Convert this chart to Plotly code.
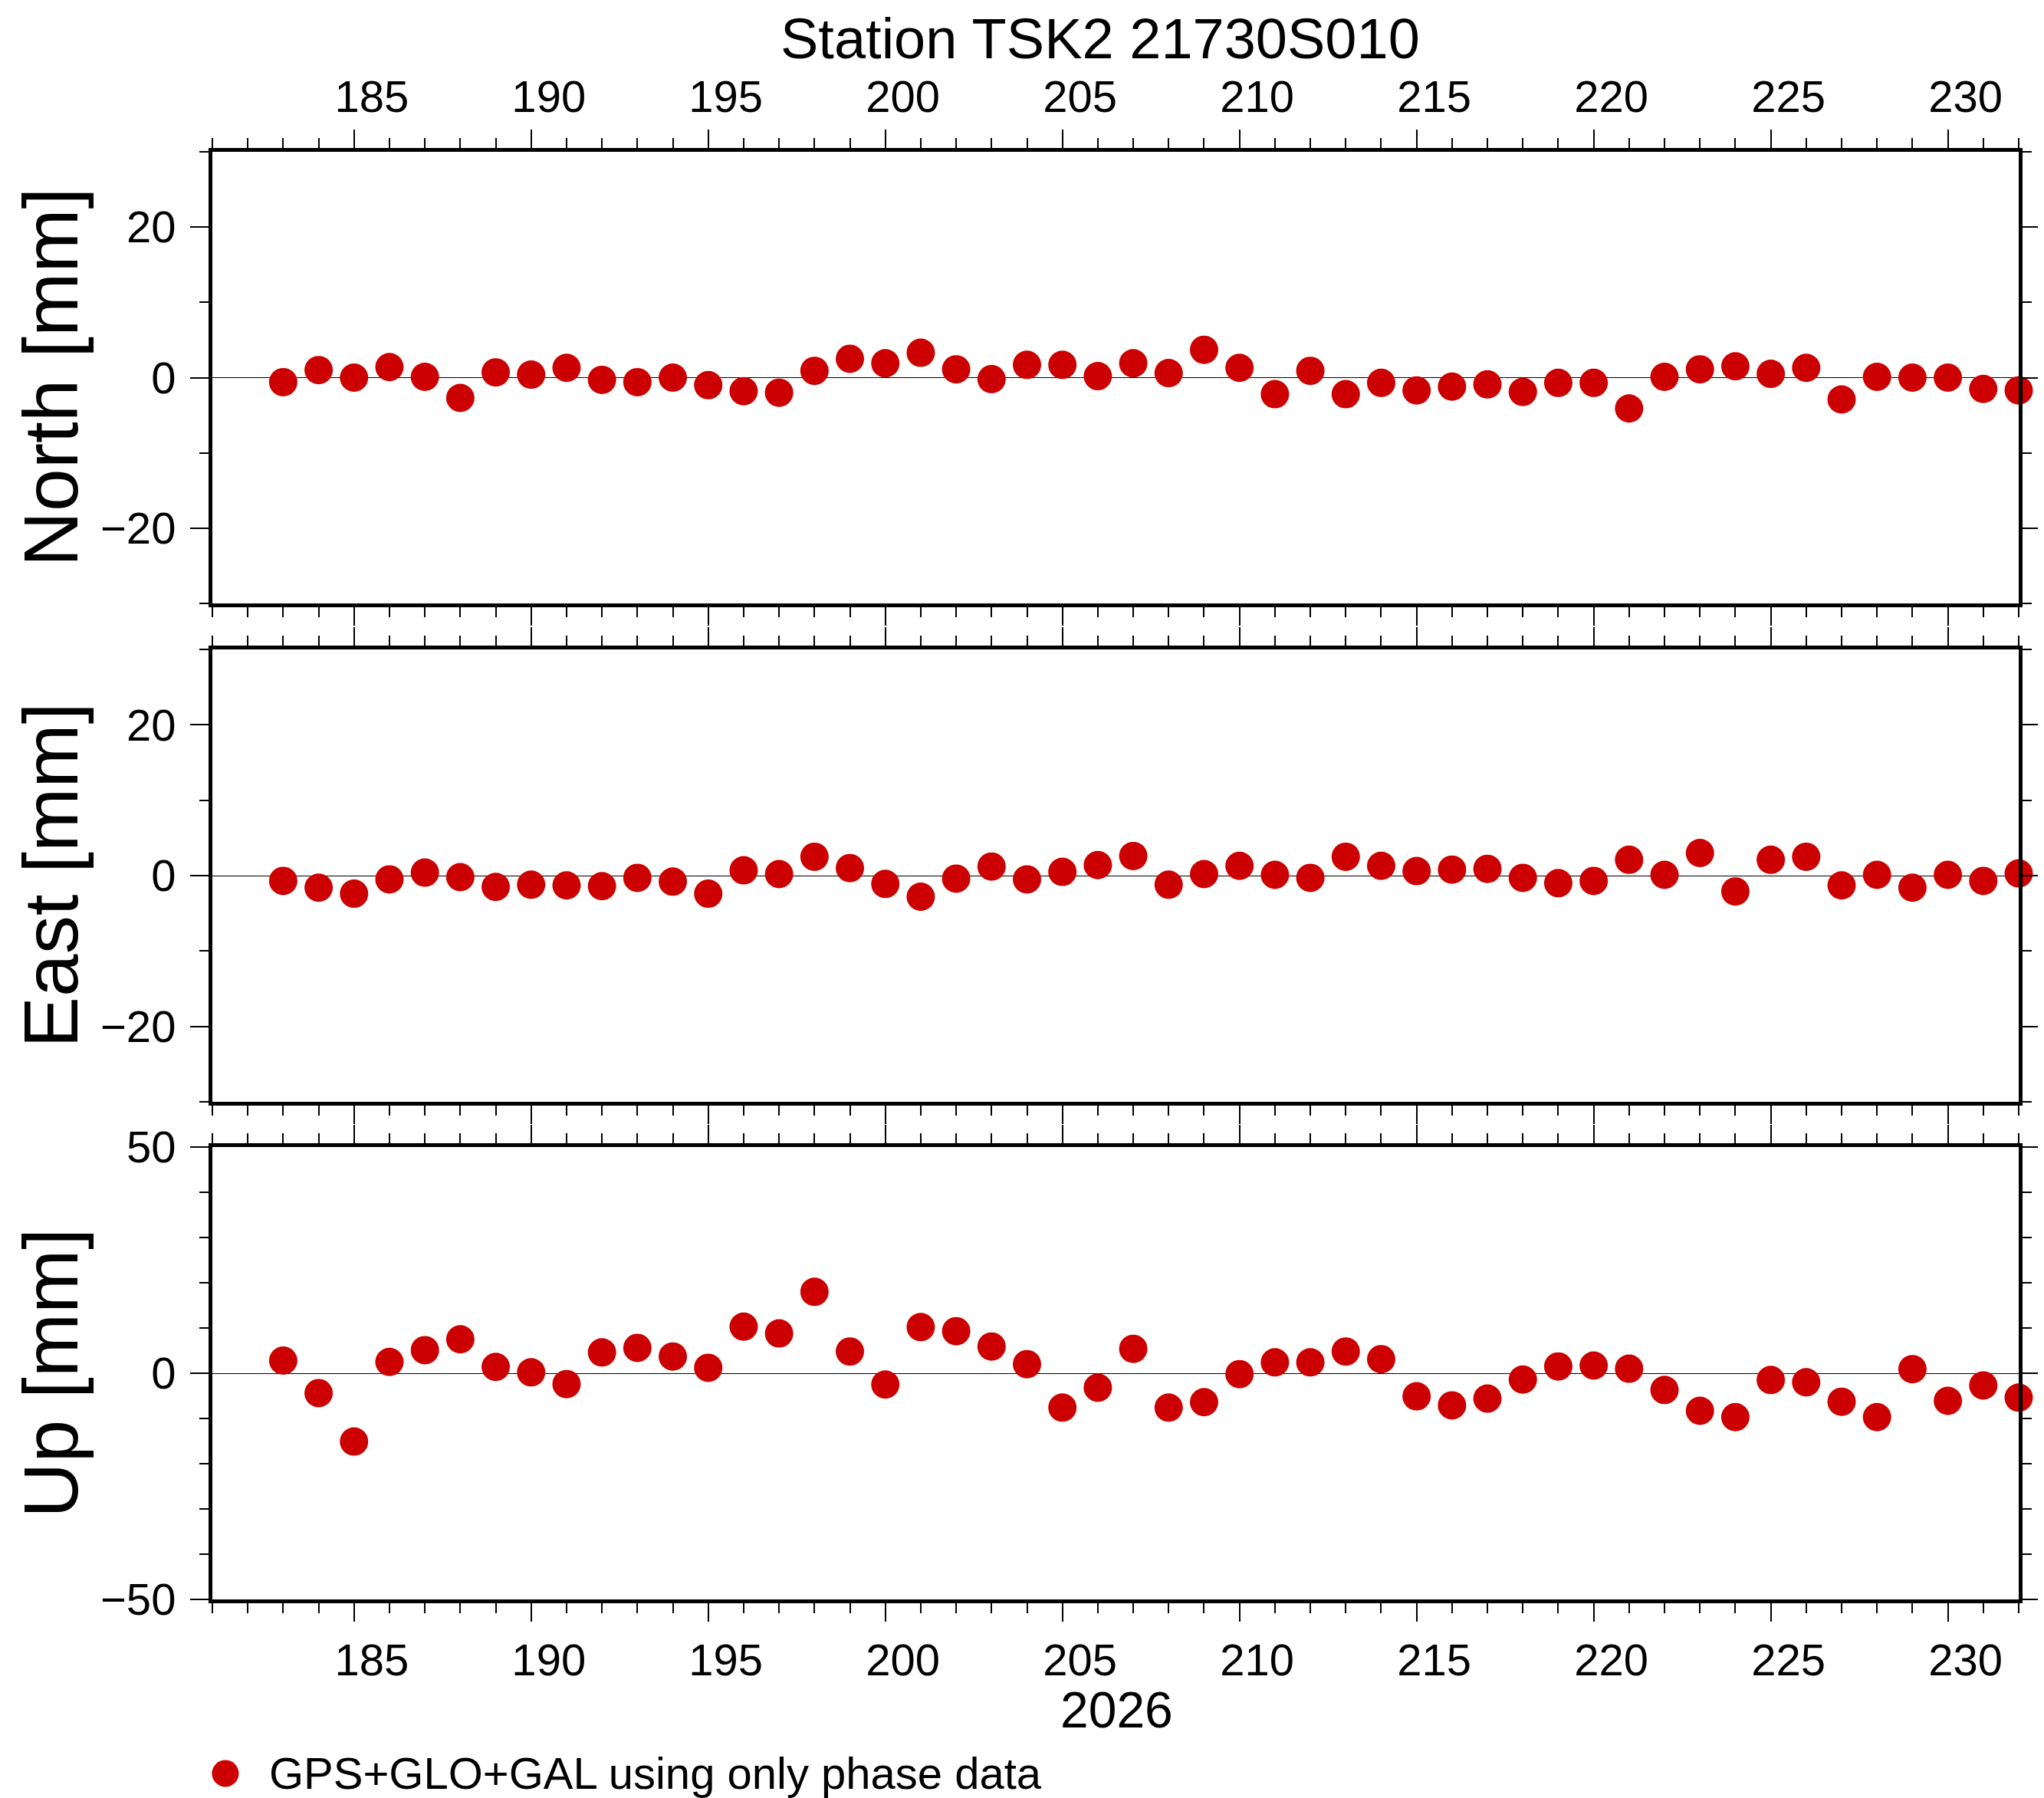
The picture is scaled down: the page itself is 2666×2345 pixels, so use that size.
from plotly import graph_objects as go
from plotly.subplots import make_subplots

# day of year 2026
days = [183, 184, 185, 186, 187, 188, 189, 190, 191, 192,
        193, 194, 195, 196, 197, 198, 199, 200, 201, 202,
        203, 204, 205, 206, 207, 208, 209, 210, 211, 212,
        213, 214, 215, 216, 217, 218, 219, 220, 221, 222,
        223, 224, 225, 226, 227, 228, 229, 230, 231, 232]

north = [-0.6, 1.0, 0.0, 1.4, 0.1, -2.7, 0.7, 0.4, 1.3, -0.3,
         -0.6, 0.0, -1.0, -1.8, -2.0, 0.9, 2.5, 1.9, 3.3, 1.1,
         -0.2, 1.7, 1.7, 0.2, 1.9, 0.6, 3.7, 1.3, -2.2, 0.9,
         -2.2, -0.7, -1.7, -1.2, -0.9, -1.9, -0.7, -0.7, -4.1, 0.1,
         1.1, 1.5, 0.5, 1.3, -2.9, 0.1, 0.0, 0.0, -1.5, -1.7]

east = [-0.7, -1.6, -2.4, -0.5, 0.4, -0.2, -1.5, -1.2, -1.3, -1.4,
        -0.3, -0.8, -2.4, 0.7, 0.2, 2.5, 1.0, -1.1, -2.8, -0.4,
        1.2, -0.5, 0.5, 1.4, 2.6, -1.2, 0.2, 1.3, 0.1, -0.3,
        2.5, 1.3, 0.6, 0.8, 0.9, -0.3, -1.0, -0.7, 2.1, 0.1,
        3.0, -2.1, 2.1, 2.5, -1.3, 0.1, -1.6, 0.1, -0.7, 0.3]

up = [2.8, -4.4, -15.1, 2.5, 5.1, 7.5, 1.4, 0.2, -2.4, 4.6,
      5.6, 3.7, 1.2, 10.3, 8.8, 18.0, 4.8, -2.5, 10.2, 9.3,
      5.9, 2.0, -7.6, -3.2, 5.4, -7.6, -6.4, -0.2, 2.4, 2.4,
      4.8, 3.1, -5.1, -7.1, -5.6, -1.4, 1.5, 1.7, 1.0, -3.7,
      -8.3, -9.7, -1.5, -2.0, -6.3, -9.7, 0.9, -6.1, -2.7, -5.4]

panel_titles = ["North [mm]", "East [mm]", "Up [mm]"]
y_ranges = [[-30, 30], [-30, 30], [-50, 50]]
y_major = [20, 20, 50]
x_range = [181, 232]
title = "Station TSK2 21730S010"
year_label = "2026"
legend_label = "GPS+GLO+GAL using only phase data"

W, H = 2666, 2345
OFF = 8  # the page body margin pushes the figure 8px right and down
# target frame in page pixels: x 277..2640, y 198..2086
L, T = 277 - OFF, 198 - OFF
R, B = W - (2640 - OFF), H - (2086 - OFF)
FONT = "Liberation Sans, Arial, Helvetica, sans-serif"
RED = "#cc0000"


def px(x):
    # page pixel -> paper x
    return (x - OFF - L) / (W - L - R)


def py(y):
    # page pixel -> paper y
    return (H - B - (y - OFF)) / (H - T - B)


fig = make_subplots(rows=3, cols=1, shared_xaxes=True, vertical_spacing=0.0315)

for i, series in enumerate([north, east, up]):
    fig.add_trace(go.Scatter(x=days, y=series, mode="markers", name=legend_label,
                             marker=dict(color=RED, size=37, line=dict(width=0)),
                             cliponaxis=False, showlegend=False),
                  row=i + 1, col=1)

axis_common = dict(showline=True, linewidth=5, linecolor="black", mirror="ticks",
                   ticks="outside", ticklen=24, tickwidth=2, tickcolor="black",
                   showgrid=False, tickfont=dict(family=FONT, size=58, color="black"))

for i in range(3):
    fig.update_xaxes(range=x_range, dtick=5, tick0=185,
                     minor=dict(dtick=1, ticklen=13, tickwidth=2, tickcolor="black", ticks="outside"),
                     ticklabelshift=23, zeroline=False,
                     row=i + 1, col=1, **axis_common)
    fig.update_yaxes(range=y_ranges[i], dtick=y_major[i], tick0=0,
                     minor=dict(dtick=10, ticklen=12, tickwidth=2, tickcolor="black", ticks="outside"),
                     zeroline=True, zerolinecolor="black", zerolinewidth=1.3,
                     ticklabelstandoff=7,
                     row=i + 1, col=1, **axis_common)

fig.update_xaxes(side="top", showticklabels=True, row=1, col=1)
fig.update_xaxes(showticklabels=False, row=2, col=1)
fig.update_xaxes(showticklabels=True, row=3, col=1)

# panel frames in page pixels
frames = [(198, 787), (847, 1437), (1496, 2086)]
for i, (top, bot) in enumerate(frames):
    fig.update_yaxes(domain=[py(bot), py(top)], row=i + 1, col=1)
    fig.add_annotation(text=panel_titles[i], textangle=-90, xref="paper", yref="paper",
                       x=px(65), y=py((top + bot) / 2), xanchor="center", yanchor="middle",
                       showarrow=False, borderpad=0,
                       font=dict(family=FONT, size=100, color="black"))

fig.add_annotation(text=title, xref="paper", yref="paper", x=px(1438), y=py(50),
                   xanchor="center", yanchor="middle", showarrow=False, borderpad=0,
                   font=dict(family=FONT, size=74, color="black"))
fig.add_annotation(text=year_label, xref="paper", yref="paper", x=px(1460), y=py(2230),
                   xanchor="center", yanchor="middle", showarrow=False, borderpad=0,
                   font=dict(family=FONT, size=66, color="black"))

# legend key drawn by hand so the symbol keeps the data marker size
fig.add_shape(type="circle", xref="paper", yref="paper", xsizemode="pixel", ysizemode="pixel",
              xanchor=px(294), yanchor=py(2313), x0=-17.5, x1=17.5, y0=-17.5, y1=17.5,
              fillcolor=RED, line=dict(width=0))
fig.add_annotation(text=legend_label, xref="paper", yref="paper", x=px(349), y=py(2312),
                   xanchor="left", yanchor="middle", showarrow=False,
                   font=dict(family=FONT, size=58, color="black"))

fig.update_layout(width=W, height=H, margin=dict(l=L, r=R, t=T, b=B),
                  plot_bgcolor="white", paper_bgcolor="white", showlegend=False,
                  font=dict(family=FONT, color="black"))

fig.write_html("out.html")
